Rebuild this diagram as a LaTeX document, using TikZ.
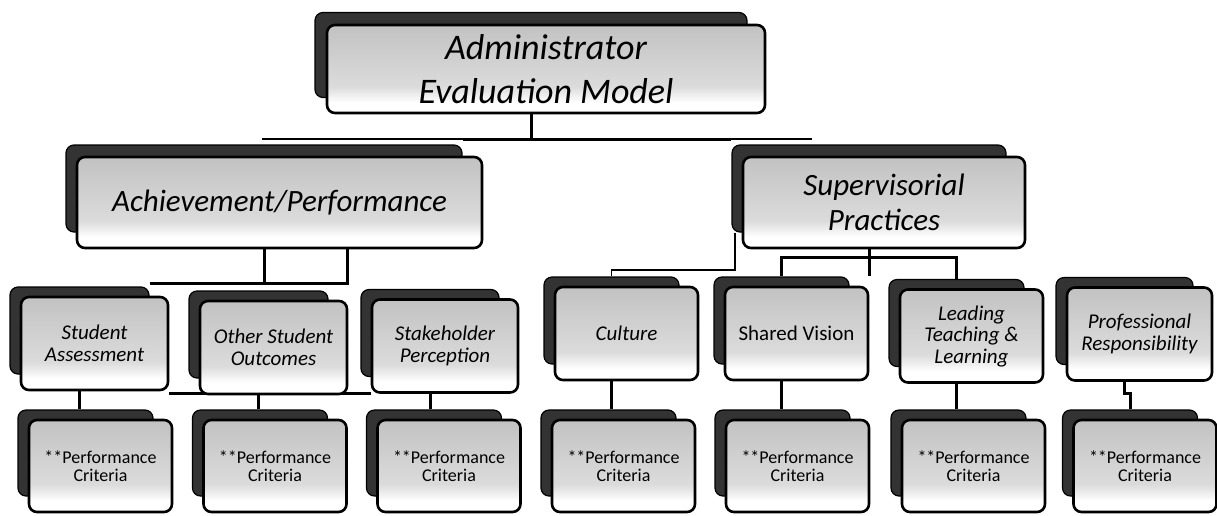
\documentclass[tikz,border=0pt]{standalone}
\usepackage{fontspec}
\setmainfont{Carlito}
\usetikzlibrary{backgrounds,calc}
% light card: grey over most of it, white at the foot
\pgfdeclareverticalshading{cardshade}{100bp}{
	color(0bp)=(white); color(31bp)=(white); color(40bp)=(black!14);
	color(75bp)=(black!24); color(100bp)=(black!24)}
\tikzset{
	backbox/.style={
		rectangle,
		rounded corners=8pt,
		draw=black, very thick,
		fill=black!80,
		inner sep=0pt},
	frontbox/.style={
		rectangle,
		rounded corners=8pt,
		draw=black, line width=2.6pt,
		shade, shading=cardshade,
		inner sep=0pt,
		align=center},
	line/.style={draw, line width=3pt},
	thinline/.style={draw, line width=1.2pt},
	headtext/.style={font=\fontsize{36}{44}\selectfont\itshape},
	areatext/.style={font=\fontsize{31}{35}\selectfont\itshape},
	domaintext/.style={font=\fontsize{21}{21.5}\selectfont\itshape},
	criteriatext/.style={font=\fontsize{18}{18}\selectfont},
}

\begin{document}
\begin{tikzpicture}[x=1pt, y=-1pt]
	\useasboundingbox (0,0) rectangle (1217,515);

	% model at the top
	\node[backbox, minimum width=432pt, minimum height=85pt] (admin-b) at (531,55) {};
	\node[frontbox, headtext, minimum width=438pt, minimum height=88pt] (admin) at (546,69) {Administrator\\Evaluation Model};

	% the two areas
	\node[backbox, minimum width=396pt, minimum height=87pt] (achieve-b) at (264,188.5) {};
	\node[frontbox, areatext, minimum width=405pt, minimum height=91pt] (achieve) at (279.5,202.5) {Achievement/Performance};
	\node[backbox, minimum width=274pt, minimum height=87pt] (superv-b) at (869,188.5) {};
	\node[frontbox, areatext, minimum width=282pt, minimum height=91pt] (superv) at (884,202.5) {Supervisorial\\Practices};

	% domains, each one a dark card behind a light one
	\foreach \name/\cx/\cy/\w/\txt in {
		sa/94.5/343.5/147/{Student\\Assessment},
		oso/273.5/347.5/147/{Other Student\\Outcomes},
		sp/445/346/146/{Stakeholder\\Perception},
		cul/626.5/333.5/143/{Culture},
		sv/796.5/333.5/143/{\upshape Shared Vision},
		ltl/971.5/336/143/{Leading\\Teaching \&\\Learning},
		pr/1139.5/334/145/{Professional\\Responsibility}}
	{
		\node[backbox, minimum width=(\w-8)*1pt, minimum height=87pt] (\name-b) at (\cx-15,\cy-13) {};
		\node[frontbox, domaintext, minimum width=\w*1pt, minimum height=93pt] (\name) at (\cx,\cy) {\txt};
	}

	% performance criteria under every domain
	\foreach \name/\cx in {sa/100.5, oso/275, sp/449, cul/623.5, sv/797.5, ltl/973.5, pr/1145}
	{
		\node[backbox, minimum width=135pt, minimum height=86pt] (\name p-b) at (\cx-15,453) {};
		\node[frontbox, criteriatext, minimum width=143pt, minimum height=92pt] (\name p) at (\cx,466) {**Performance\\Criteria};
	}

	% connectors, behind the cards
	\begin{pgfonlayer}{background}
		\coordinate (busL) at (262,139);
		\coordinate (busE) at (812,139);
		\draw[thinline] (busL) -- (busE);
		\draw[line] (achieve-b.north east |- busL) -- (superv-b.north west |- busL);
		\draw[line] (admin-b.south) -- (admin-b.south |- busL);

		% achievement to its domains
		\coordinate (achJ) at (347,283);
		\draw[line] (achieve-b.south) -- (achieve-b.south |- achJ);
		\draw[line] (sa-b.north east |- achJ) -- (achJ) -- (achJ |- achieve.south);

		% supervisorial practices to its domains
		\draw[line] (superv-b.south) -- (superv-b.south |- sv-b.north);
		\draw[line] (sv-b.north) -- ++(0,-19) -| (ltl-b.north);
		\coordinate (culJ) at (735,270);
		\draw[thinline] (culJ |- superv-b.south) -- (culJ) -| (cul-b.north);

		% domains to performance criteria
		\draw[line] (sa.east |- sp.south) -- (sp.south west);
		\foreach \name in {sa, oso, sp, cul, sv, ltl}
			\draw[line] (\name-b.south) -- (\name-b.south |- \name p-b.north);
		\draw[line] (pr-b.south) |- ([yshift=-12pt]pr.south -| prp-b.north) -- (prp-b.north);
	\end{pgfonlayer}
\end{tikzpicture}
\end{document}
